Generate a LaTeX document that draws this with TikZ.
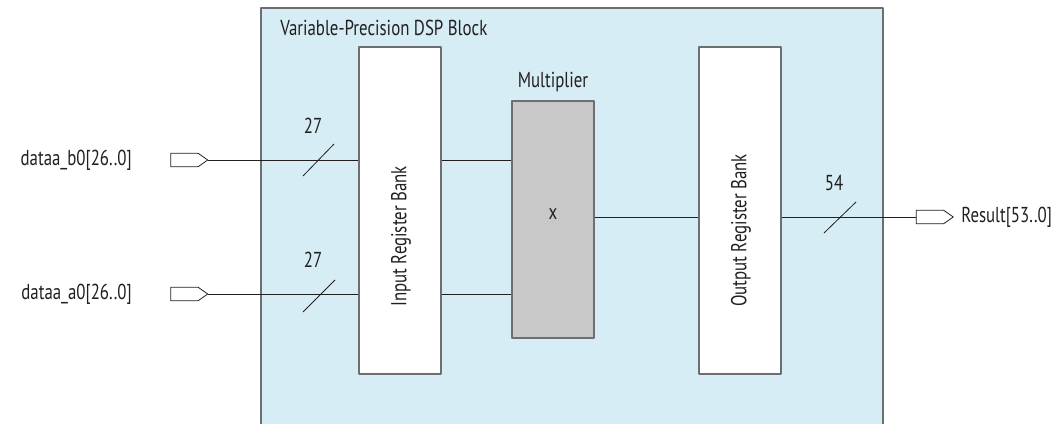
\documentclass[tikz,border=0pt]{standalone}
\usepackage{fontspec}
\setmainfont{PT Sans}[FakeStretch=0.78]
\usetikzlibrary{shapes.symbols}
\definecolor{dspblue}{HTML}{D6EDF5}
\definecolor{mulgray}{HTML}{C8C8C8}
\definecolor{edgegray}{HTML}{6D6E71}
\definecolor{ink}{HTML}{231F20}
\tikzset{
  regbank/.style={draw=edgegray, fill=white, line width=0.9pt, minimum width=61.5pt, minimum height=245.25pt, inner sep=0pt},
  port/.style={signal, signal to=east, signal pointer angle=70, draw=ink, fill=white, line width=0.6pt, minimum width=27.75pt, minimum height=10pt, inner sep=0pt},
  wire/.style={draw=ink, line width=0.6pt},
  lbl/.style={text=ink, inner sep=0pt}
}
\begin{document}
\begin{tikzpicture}[x=0.75pt, y=-0.75pt, font=\fontsize{16.2}{19}\selectfont, line join=round]
		\useasboundingbox (0,0) rectangle (1057,424);
		% DSP block
		\draw[draw=edgegray, fill=dspblue, line width=0.9pt] (261,8) rectangle (883,440);
		\node[lbl, anchor=base west] (title) at (280,36) {Variable-Precision DSP Block};
		% banks and multiplier
		\node[regbank] (inb) at (400,210.5) {};
		\node[regbank] (outb) at (740,210.5) {};
		\node[draw=edgegray, fill=mulgray, line width=0.9pt, minimum width=61.5pt, minimum height=177.75pt, inner sep=0pt] (mul) at (553,219.5) {};
		\node[lbl, anchor=base] (multxt) at (553,88) {Multiplier};
		\node[lbl] (x) at (553,214) {x};
		\node[lbl, rotate=90, anchor=west] (intxt) at (401,307) {Input Register Bank};
		\node[lbl, rotate=90, anchor=west] (outtxt) at (741,307) {Output Register Bank};
		% ports
		\node[port] (pb) at (184.5,160) {};
		\node[port] (pa) at (184.5,294) {};
		\node[port] (pr) at (930,217) {};
		\node[lbl, anchor=east] (lb) at (132,160) {dataa\_b0[26..0]};
		\node[lbl, anchor=east] (la) at (132,294) {dataa\_a0[26..0]};
		\node[lbl, anchor=west] (lr) at (961,217) {Result[53..0]};
		% wires
		\draw[wire] (pb.east) -- (inb.west |- pb.east);
		\draw[wire] (pa.east) -- (inb.west |- pa.east);
		\draw[wire] (inb.east |- pb.east) -- (mul.west |- pb.east);
		\draw[wire] (inb.east |- pa.east) -- (mul.west |- pa.east);
		\draw[wire] (mul.east |- pr.west) -- (outb.west |- pr.west);
		\draw[wire] (outb.east |- pr.west) -- (pr.west);
		% bus widths
		\draw[wire] (303,176)--(334,144) (303,312)--(335,280) (824,233)--(856,202);
		\node[lbl] (w1) at (313,126) {27};
		\node[lbl] (w2) at (313,260) {27};
		\node[lbl] (w3) at (834,183) {54};
\end{tikzpicture}
\end{document}
